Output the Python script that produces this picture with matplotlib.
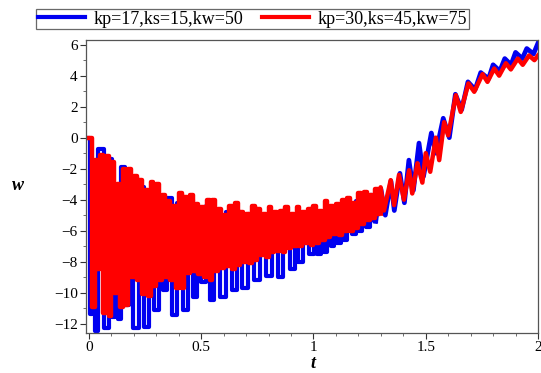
import numpy as np
import matplotlib
matplotlib.use("Agg")
import matplotlib.pyplot as plt
from matplotlib.ticker import MultipleLocator

plt.rcParams['font.family'] = ['Liberation Serif', 'DejaVu Serif']
plt.rcParams['axes.unicode_minus'] = True

# red curve (kp=30,ks=45,kw=75): fast oscillation, read as upper / lower values per cycle
red_hi = [0.0, -1.45, -1.1, -1.2, -1.6, -3.0, -2.0, -2.0, -2.5, -2.7,
          -3.4, -2.85, -3.0, -3.7, -4.1, -4.4, -3.6, -3.8, -3.7, -4.3,
          -4.5, -4.0, -4.0, -4.6, -5.0, -4.4, -4.2, -4.8, -4.9, -4.4,
          -4.6, -4.9, -4.5, -4.8, -4.7, -4.5, -4.9, -4.5, -4.8, -4.6,
          -4.4, -4.7, -4.1, -4.4, -4.3, -4.0, -3.9, -4.2, -3.6, -3.5,
          -3.7, -3.3]
red_lo = [-10.9, -8.5, -11.3, -11.5, -10.0, -10.9, -10.8, -9.0, -9.2, -10.1,
          -10.2, -9.6, -9.2, -9.0, -9.2, -9.7, -9.7, -8.7, -8.6, -8.8,
          -9.0, -9.2, -8.6, -8.4, -8.3, -8.5, -8.2, -8.0, -8.1, -7.9,
          -7.6, -7.7, -7.4, -7.3, -7.4, -7.1, -7.0, -7.0, -6.8, -6.9,
          -6.8, -6.6, -6.4, -6.2, -6.3, -6.0, -6.0, -5.8, -5.6, -5.3,
          -5.2, -4.9]
red_cycle = 0.025

# red curve after t=1.29, extremes read one by one
red_late_t = [1.299, 1.314, 1.344, 1.359, 1.381, 1.403, 1.426, 1.44, 1.463, 1.485,
              1.50, 1.52, 1.545, 1.56, 1.582, 1.60, 1.634, 1.656, 1.69, 1.716,
              1.753, 1.775, 1.805, 1.827, 1.857, 1.879, 1.91, 1.932, 1.96, 1.984, 2.0]
red_late_w = [-3.2, -4.7, -2.74, -4.35, -2.4, -4.0, -2.1, -3.6, -1.65, -2.9,
              -1.0, -2.2, 0.0, -1.45, 1.0, 0.15, 2.74, 1.66, 3.5, 2.96,
              4.1, 3.6, 4.46, 4.0, 4.8, 4.4, 5.1, 4.7, 5.3, 5.0, 5.3]

# blue curve (kp=17,ks=15,kw=50): peaks and troughs
blue_t = [0.0, 0.006, 0.02, 0.034, 0.046, 0.086, 0.097, 0.112, 0.124, 0.138,
          0.148, 0.17, 0.19, 0.205, 0.24, 0.254, 0.28, 0.30, 0.32, 0.338,
          0.36, 0.376, 0.405, 0.43, 0.455, 0.473, 0.49, 0.51, 0.53, 0.548,
          0.57, 0.60, 0.625, 0.645, 0.67, 0.696, 0.72, 0.748, 0.775, 0.80,
          0.83, 0.853, 0.88, 0.912, 0.925, 0.94, 0.965, 0.994, 1.01, 1.024,
          1.04, 1.054, 1.07, 1.083, 1.10, 1.113, 1.13, 1.143, 1.16, 1.18,
          1.195, 1.21, 1.225, 1.24, 1.26, 1.277, 1.30, 1.32, 1.345, 1.36,
          1.385, 1.405, 1.425, 1.445, 1.47, 1.49, 1.525, 1.545, 1.578, 1.605,
          1.632, 1.66, 1.688, 1.72, 1.745, 1.78, 1.80, 1.83, 1.852, 1.88,
          1.90, 1.93, 1.95, 1.98, 2.0]
blue_w = [0.0, -11.4, -2.0, -12.5, -0.7, -12.3, -1.35, -11.6, -6.5, -11.7,
          -1.9, -10.8, -2.6, -12.3, -3.2, -12.2, -3.4, -11.1, -4.3, -9.8,
          -3.9, -11.45, -4.2, -11.1, -4.0, -10.3, -4.7, -9.3, -4.4, -10.5,
          -4.7, -10.3, -4.8, -9.8, -5.0, -9.7, -4.9, -9.2, -5.1, -8.9,
          -5.0, -9.0, -5.1, -8.5, -5.0, -8.0, -5.0, -7.5, -5.0, -7.5,
          -4.9, -7.4, -4.7, -7.0, -4.6, -6.8, -4.4, -6.6, -4.3, -6.2,
          -4.1, -6.0, -3.9, -5.75, -3.7, -5.4, -3.3, -5.0, -2.8, -4.7,
          -2.3, -4.2, -1.45, -3.4, -0.35, -2.5, 0.3, -1.0, 1.25, 0.0,
          2.8, 1.8, 3.6, 3.1, 4.2, 3.8, 4.7, 4.3, 5.1, 4.7,
          5.5, 5.1, 5.75, 5.4, 6.1]

# red zigzag: cycle start -> upper value, half a cycle later -> lower value
red_t, red_w = [], []
for k in range(len(red_hi)):
    red_t += [k * red_cycle, k * red_cycle + red_cycle / 2]
    red_w += [red_hi[k], red_lo[k]]

# blue: spiky part before ~1.28, smoother climb after
nb = blue_t.index(1.277) + 1

fig = plt.figure(figsize=(5.41, 3.73), dpi=100)
ax = fig.add_axes([86 / 541, 1 - 333 / 373, 452 / 541, 293 / 373])

blue = '#0000f0'
redc = '#ff0000'
ax.plot(blue_t[:nb], blue_w[:nb], color=blue, lw=3.0, drawstyle='steps-mid',
        label='kp=17,ks=15,kw=50')
ax.plot(blue_t[nb - 1:], blue_w[nb - 1:], color=blue, lw=3.4)
ax.plot(red_t, red_w, color=redc, lw=3.2, drawstyle='steps-post',
        label='kp=30,ks=45,kw=75')
ax.plot([red_t[-1] + red_cycle / 2] + red_late_t, [red_w[-1]] + red_late_w,
        color=redc, lw=3.2)

ax.set_xlim(-0.013, 2.0)
ax.set_ylim(-12.6, 6.3)
ax.xaxis.set_minor_locator(MultipleLocator(0.1))
ax.yaxis.set_major_locator(MultipleLocator(2))
ax.yaxis.set_minor_locator(MultipleLocator(1))
ax.set_xticks([0, 0.5, 1, 1.5, 2])
ax.set_xticklabels(['0', '0.5', '1', '1.5', '2'])
ax.tick_params(which='major', direction='out', length=4, width=0.8, labelsize=11,
               colors='#333333', labelcolor='black', pad=2)
ax.tick_params(which='minor', direction='out', length=2.5, width=0.6, colors='#555555')
for s in ax.spines.values():
    s.set_color('#555555')
    s.set_linewidth(0.9)

fig.text(313 / 541, 1 - 364 / 373, 't', fontsize=13, fontweight='bold', style='italic',
         ha='center', va='center')
fig.text(18 / 541, 1 - 185 / 373, 'w', fontsize=13, fontweight='bold', style='italic',
         ha='center', va='center')

handles, labels = ax.get_legend_handles_labels()
leg = fig.legend(handles, labels, loc='center', bbox_to_anchor=(252.5 / 541, 1 - 19 / 373),
                 ncol=2, fontsize=13, frameon=True, fancybox=False, handlelength=2.6,
                 handletextpad=0.5, columnspacing=1.0, borderpad=0.1)
leg.get_frame().set_edgecolor('#444444')
leg.get_frame().set_linewidth(0.9)
for line in leg.get_lines():
    line.set_linewidth(3.0)
    line.set_drawstyle('default')

fig.savefig('out.png', dpi=100)
